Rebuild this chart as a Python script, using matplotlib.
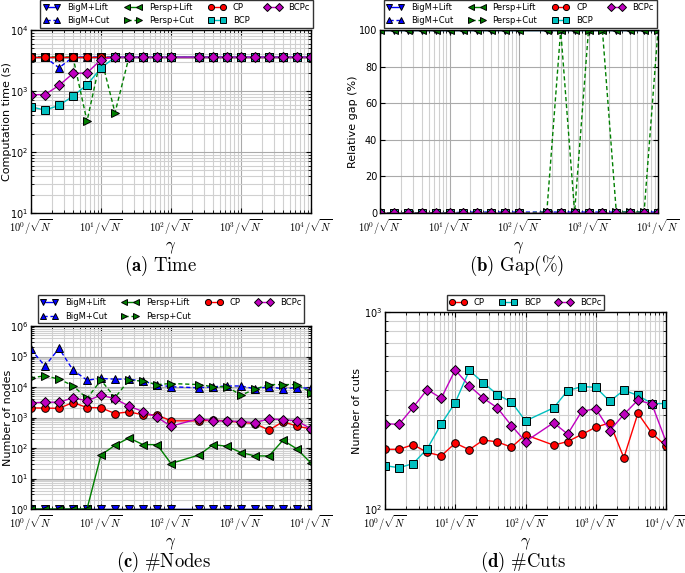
import numpy as np
import matplotlib
matplotlib.use("Agg")
import matplotlib.pyplot as plt
from matplotlib.ticker import NullFormatter, FixedLocator

# gamma = 10**exp / sqrt(N)
gamma_exp = [0.0, 0.2, 0.4, 0.6, 0.8, 1.0, 1.2, 1.4, 1.6, 1.8, 2.0,
             2.4, 2.6, 2.8, 3.0, 3.2, 3.4, 3.6, 3.8, 4.0]
xtick_labels = [r"$10^{0}/\sqrt{N}$", r"$10^{1}/\sqrt{N}$", r"$10^{2}/\sqrt{N}$",
                r"$10^{3}/\sqrt{N}$", r"$10^{4}/\sqrt{N}$"]

# (a) computation time (s)
t_bigm_lift = [3600] * 20
t_bigm_cut = [3600, 3600, 2400, 3600, 3600, 3600, 3600, 3600, 3600, 3600,
              3600, 3600, 3600, 3600, 3600, 3600, 3600, 3600, 3600, 3600]
t_persp_lift = [3600] * 20
t_persp_cut = [3600, 3600, 3600, 3600, 320, 3600, 440, 3600, 3600, 3600,
               3600, 3600, 3600, 3600, 3600, 3600, 3600, 3600, 3600, 3600]
t_cp = [3600] * 20
t_bcp = [551, 486, 580, 825, 1265, 2375, 3600, 3600, 3600, 3600,
         3600, 3600, 3600, 3600, 3600, 3600, 3600, 3600, 3600, 3600]
t_bcpc = [867, 875, 1233, 1940, 1980, 3260, 3600, 3600, 3600, 3600,
          3600, 3600, 3600, 3600, 3600, 3600, 3600, 3600, 3600, 3600]

# (b) relative gap (%)
g_bigm_lift = [100] * 20
g_bigm_cut = [0, 0, 0, 0, 0, 0, 0.5, 0.5, 0.5, 0.5,
              0.5, 0.5, 0.5, 0.5, 0.5, 0.5, 0.5, 0.5, 0.5, 0.5]
g_persp_lift = [100] * 20
g_persp_cut = [0, 0, 0, 0, 0, 0, 0, 0, 0, 0,
               0, 0.5, 100, 0.5, 100, 100, 0.5, 0.5, 0.5, 100]
g_cp = [0] * 20
g_bcp = [0] * 20
g_bcpc = [0] * 20

# (c) number of nodes
n_bigm_lift = [1] * 20
n_bigm_cut = [171000, 48500, 185000, 35800, 16800, 19000, 18100, 18000, 15600, 11800,
              10200, 9400, 10200, 10800, 10800, 8700, 10200, 8700, 9600, 9000]
n_persp_lift = [1, 1, 1, 1, 1, 59, 123, 214, 129, 129,
                31, 59, 129, 114, 71, 55, 55, 180, 93, 32]
n_persp_cut = [20000, 23300, 18100, 11000, 4200, 16800, 4500, 16800, 15600, 12000,
               13000, 12000, 10200, 10200, 5400, 8500, 12000, 12000, 12000, 6600]
n_cp = [2080, 2030, 2000, 3100, 2120, 2080, 1350, 1530, 1220, 1220,
        776, 776, 810, 776, 685, 634, 383, 736, 518, 424]
n_bcpc = [3030, 3170, 3170, 4420, 3520, 5400, 4100, 2350, 1570, 1020,
          518, 925, 776, 776, 736, 685, 900, 850, 776, 424]

# (d) number of cuts
c_cp = [201, 201, 212, 194, 186, 216, 200, 224, 219, 206,
        238, 211, 220, 239, 260, 274, 182, 306, 242, 209]
c_bcp = [166, 162, 170, 202, 270, 347, 505, 437, 381, 349,
         280, 326, 399, 418, 415, 352, 401, 377, 343, 343]
c_bcpc = [271, 269, 328, 404, 365, 508, 422, 365, 326, 265,
          220, 274, 240, 313, 323, 250, 302, 357, 340, 220]

x = 10 ** np.array(gamma_exp)

styles = {
    "BigM+Lift": dict(color="#0000ff", ls="-", marker="v"),
    "BigM+Cut": dict(color="#0000ff", ls="--", marker="^"),
    "Persp+Lift": dict(color="#007f00", ls="-", marker="<"),
    "Persp+Cut": dict(color="#007f00", ls="--", marker=">"),
    "CP": dict(color="#ff0000", ls="-", marker="o"),
    "BCP": dict(color="#00bfbf", ls="-", marker="s"),
    "BCPc": dict(color="#bf00bf", ls="-", marker="D"),
}
msize = {"v": 6, "^": 6, "<": 6, ">": 6, "o": 5.5, "s": 5.5, "D": 5.5}

plt.rcParams["font.family"] = "DejaVu Sans"
plt.rcParams["xtick.direction"] = "in"
plt.rcParams["ytick.direction"] = "in"
plt.rcParams["xtick.top"] = True
plt.rcParams["ytick.right"] = True

fig = plt.figure(figsize=(6.85, 5.73), dpi=100)
W, H = 685.0, 573.0


def add_ax(l, r, t, b):
    return fig.add_axes([l / W, 1 - b / H, (r - l) / W, (b - t) / H])


def draw(ax, series):
    for name, vals in series:
        st = styles[name]
        ax.plot(x, vals, color=st["color"], ls=st["ls"], lw=1.0,
                marker=st["marker"], ms=msize[st["marker"]],
                mfc=st["color"], mec="k", mew=0.7, label=name,
                dashes=(3, 2) if st["ls"] == "--" else (None, None))


def style_x(ax):
    ax.set_xscale("log")
    ax.set_xlim(1, 1e4)
    ax.xaxis.set_major_locator(FixedLocator([1, 10, 100, 1000, 10000]))
    ax.set_xticklabels(xtick_labels, fontsize=7.5, math_fontfamily="cm")
    ax.xaxis.set_minor_formatter(NullFormatter())
    ax.set_xlabel(r"$\gamma$", fontsize=12, math_fontfamily="cm", labelpad=1)
    ax.tick_params(axis="x", which="major", pad=3)


def grid(ax, ymin=True):
    ax.grid(True, which="major", color="#aaaaaa", lw=0.8, ls="-")
    ax.grid(True, which="minor", axis="x", color="#d0d0d0", lw=0.8, ls="-")
    if ymin:
        ax.grid(True, which="minor", axis="y", color="#d0d0d0", lw=0.8, ls="-")
    ax.set_axisbelow(True)


def legend(ax, ncol, anchor):
    lg = ax.legend(loc="lower center", bbox_to_anchor=anchor, ncol=ncol,
                   numpoints=2, fontsize=6, fancybox=False, frameon=True,
                   edgecolor="k", handlelength=2.0, columnspacing=1.8,
                   borderpad=0.35, labelspacing=0.5, handletextpad=0.9,
                   borderaxespad=0.2, markerscale=0.8)
    lg.get_frame().set_linewidth(1.0)


def ylab(ax, text, xpos):
    ax.set_ylabel(text, fontsize=8)
    ax.yaxis.set_label_coords(xpos, 0.5)


all7 = ["BigM+Lift", "BigM+Cut", "Persp+Lift", "Persp+Cut", "CP", "BCP", "BCPc"]

# (a) Time
ax1 = add_ax(31, 311, 30, 213)
draw(ax1, zip(all7, [t_bigm_lift, t_bigm_cut, t_persp_lift, t_persp_cut, t_cp, t_bcp, t_bcpc]))
ax1.set_yscale("log")
ax1.set_ylim(10, 1e4)
ax1.yaxis.set_minor_formatter(NullFormatter())
style_x(ax1)
grid(ax1)
ylab(ax1, "Computation time (s)", -0.068)
legend(ax1, 4, (0.52, 1.0))

# (b) Gap
ax2 = add_ax(380, 658, 30, 213)
draw(ax2, zip(all7, [g_bigm_lift, g_bigm_cut, g_persp_lift, g_persp_cut, g_cp, g_bcp, g_bcpc]))
ax2.set_ylim(0, 100)
ax2.set_yticks([0, 20, 40, 60, 80, 100])
style_x(ax2)
grid(ax2, ymin=False)
ylab(ax2, "Relative gap (%)", -0.079)
legend(ax2, 4, (0.505, 1.0))

# (c) Nodes
names_c = ["BigM+Lift", "BigM+Cut", "Persp+Lift", "Persp+Cut", "CP", "BCPc"]
ax3 = add_ax(31, 311, 326, 509)
draw(ax3, zip(names_c, [n_bigm_lift, n_bigm_cut, n_persp_lift, n_persp_cut, n_cp, n_bcpc]))
ax3.set_yscale("log")
ax3.set_ylim(1, 1e6)
ax3.yaxis.set_minor_formatter(NullFormatter())
style_x(ax3)
grid(ax3)
ylab(ax3, "Number of nodes", -0.065)
legend(ax3, 4, (0.5, 1.005))

# (d) Cuts
ax4 = add_ax(385, 666, 312, 509)
draw(ax4, zip(["CP", "BCP", "BCPc"], [c_cp, c_bcp, c_bcpc]))
ax4.set_yscale("log")
ax4.set_ylim(100, 1000)
ax4.yaxis.set_minor_formatter(NullFormatter())
style_x(ax4)
grid(ax4)
ylab(ax4, "Number of cuts", -0.082)
legend(ax4, 3, (0.5, 1.0))

for ax in (ax1, ax2, ax3, ax4):
    ax.tick_params(axis="y", labelsize=7, pad=2)
    for sp in ax.spines.values():
        sp.set_linewidth(1.0)

captions = [(161, 266, r"$\mathbf{(a)}\ \mathrm{Time}$"),
            (517, 266, r"$\mathbf{(b)}\ \mathrm{Gap}(\%)$"),
            (163, 562, r"$\mathbf{(c)}\ \#\mathrm{Nodes}$"),
            (523, 562, r"$\mathbf{(d)}\ \#\mathrm{Cuts}$")]
for cx, cy, txt in captions:
    fig.text(cx / W, 1 - cy / H, txt, ha="center", va="center",
             fontsize=13.5, math_fontfamily="cm")

fig.savefig("out.png", dpi=100)
